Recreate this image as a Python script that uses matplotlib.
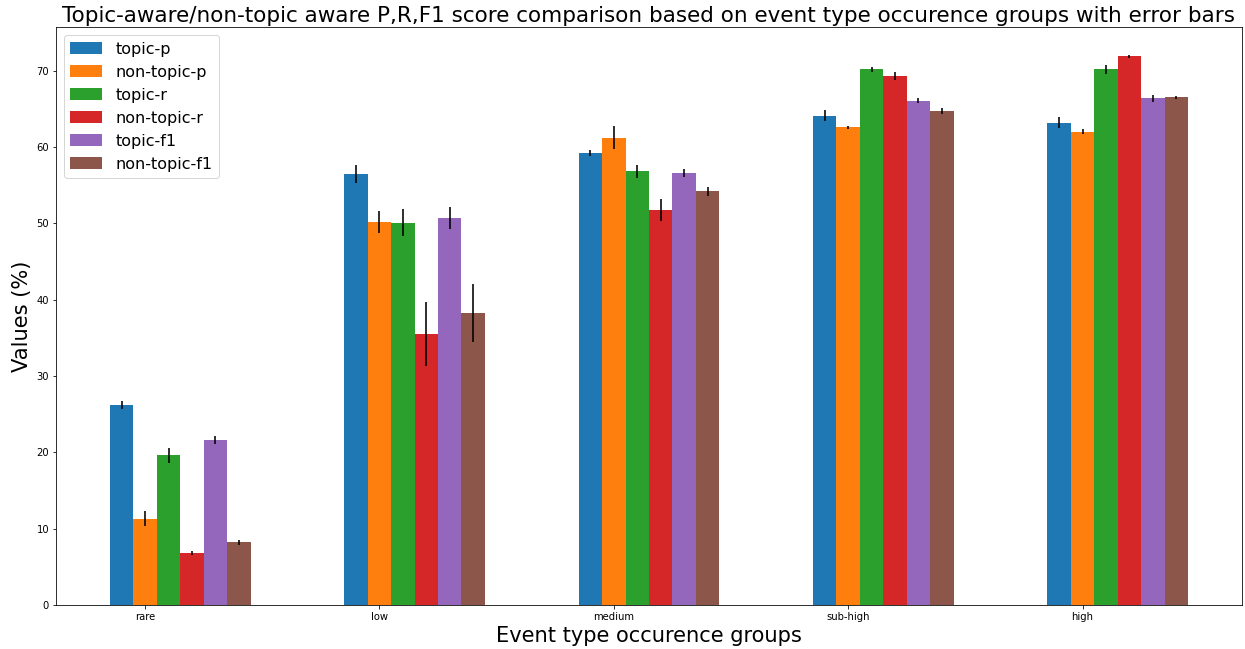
import numpy as np
import matplotlib
matplotlib.use("Agg")
import matplotlib.pyplot as plt

groups = ["rare", "low", "medium", "sub-high", "high"]
series = ["topic-p", "non-topic-p", "topic-r", "non-topic-r", "topic-f1", "non-topic-f1"]

topic_p = [26.2, 56.5, 59.2, 64.1, 63.2]
non_topic_p = [11.3, 50.2, 61.2, 62.6, 62.0]
topic_r = [19.6, 50.1, 56.8, 70.2, 70.2]
non_topic_r = [6.8, 35.5, 51.8, 69.3, 71.9]
topic_f1 = [21.6, 50.7, 56.6, 66.1, 66.4]
non_topic_f1 = [8.2, 38.3, 54.2, 64.7, 66.5]

topic_p_err = [0.55, 1.2, 0.4, 0.7, 0.75]
non_topic_p_err = [1.0, 1.45, 1.5, 0.2, 0.35]
topic_r_err = [1.0, 1.75, 0.87, 0.35, 0.6]
non_topic_r_err = [0.26, 4.2, 1.45, 0.57, 0.2]
topic_f1_err = [0.55, 1.45, 0.5, 0.3, 0.45]
non_topic_f1_err = [0.3, 3.8, 0.55, 0.4, 0.2]

values = [topic_p, non_topic_p, topic_r, non_topic_r, topic_f1, non_topic_f1]
errors = [topic_p_err, non_topic_p_err, topic_r_err, non_topic_r_err, topic_f1_err, non_topic_f1_err]
colors = ["#1f77b4", "#ff7f0e", "#2ca02c", "#d62728", "#9467bd", "#8c564b"]

fig = plt.figure(figsize=(1245 / 72, 649 / 72), dpi=72)
ax = fig.add_axes([0.045, 0.068, 0.9525, 0.890])

x = np.arange(len(groups))
width = 0.1
for i, (name, vals, errs, c) in enumerate(zip(series, values, errors, colors)):
    ax.bar(x + (i - 1) * width, vals, width, yerr=errs, color=c, label=name,
           error_kw=dict(ecolor="black", elinewidth=2, alpha=0.8, capsize=0))

ax.set_xticks(x)
ax.set_xticklabels(groups)
ax.tick_params(labelsize=10)
ax.set_xlabel("Event type occurence groups", fontsize=21)
ax.set_ylabel("Values (%)", fontsize=21)
ax.set_title("Topic-aware/non-topic aware P,R,F1 score comparison based on event type occurence groups with error bars",
             fontsize=21.5, pad=5)
ax.legend(loc="upper left", fontsize=16)

fig.savefig("out.png", dpi=72)
